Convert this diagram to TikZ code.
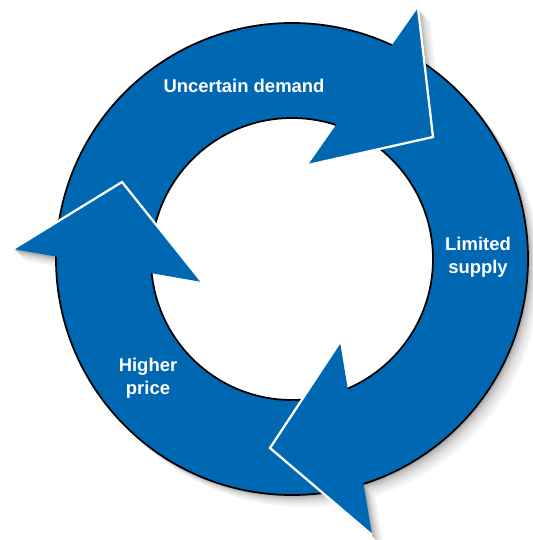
\documentclass[tikz,border=0pt]{standalone}
\usepackage{fontspec}
\setmainfont{Liberation Sans}
\usepackage{tikz}
\usetikzlibrary{calc}
\definecolor{ringblue}{RGB}{0,104,178}
\tikzset{
	lbl/.style={text=white,font=\bfseries\fontsize{10.5}{12.8}\selectfont,align=center},
	headedge/.style={white,line width=1.3pt,line join=miter}
}

\begin{document}
\begin{tikzpicture}[x=0.02cm,y=-0.02cm]
	\newcommand{\Rout}{236}
	\newcommand{\Rin}{141}
	\useasboundingbox (0,0) rectangle (532,540);
	\coordinate (C) at (292,259); %center
	\foreach \s/\c in {12/4,10/7,8/11,6/16,4/23,2/32}{ %shadow
		\begin{scope}[shift={(\s,\s)}]
			\fill[black!\c] (292,259) circle[radius=\Rout];
			\fill[black!\c] (418,8) -- (433,137) -- (308,165) -- cycle;
			\fill[black!\c] (13,249) -- (122,182) -- (202,282) -- cycle;
			\fill[black!\c] (372,535) -- (270,448) -- (340,342) -- cycle;
		\end{scope}
	}
	\fill[white] (C) circle[radius=\Rin]; %hole
	\filldraw[fill=ringblue,draw=black,line width=1pt,even odd rule]
		(C) circle[radius=\Rout] (C) circle[radius=\Rin]; %ring
	\foreach \ax/\ay/\tx/\ty/\bx/\by in {418/8/433/137/308/165,13/249/122/182/202/282,372/535/270/448/340/342}{ %heads
		\fill[ringblue] (\ax,\ay) -- (\tx,\ty) -- (\bx,\by) -- cycle;
		\draw[headedge] (\ax,\ay) -- (\tx,\ty) -- (\bx,\by);
	}
	\node[lbl] (demand) at (244,86) {Uncertain demand};
	\node[lbl] (supply) at (478,257) {Limited\\supply};
	\node[lbl] (price) at (148,378) {Higher\\price};
\end{tikzpicture}
\end{document}
